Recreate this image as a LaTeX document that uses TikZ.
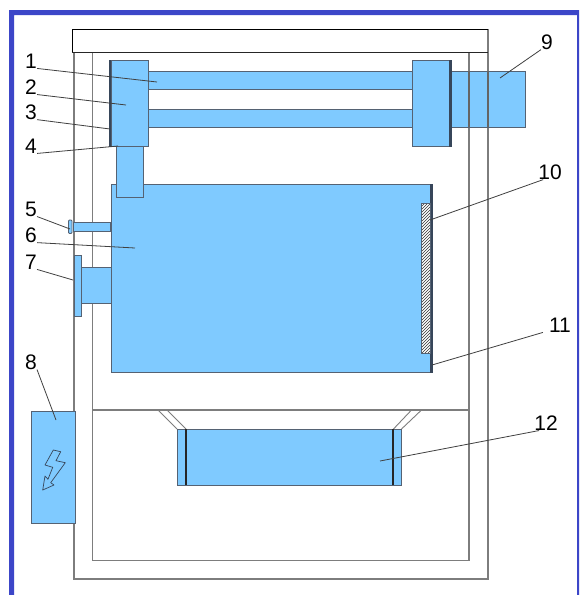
\documentclass[tikz,border=0pt]{standalone}
\usepackage{fontspec}
\setmainfont{Liberation Sans}
\definecolor{myblue}{RGB}{127,202,255}
\definecolor{myframe}{RGB}{60,70,200}
\definecolor{myline}{RGB}{125,125,125}
\definecolor{mydark}{RGB}{55,70,90}
\usetikzlibrary{patterns}
\tikzset{
	part/.style={draw=mydark!85!white, fill=myblue, line width=0.9pt},
	strip/.style={draw=mydark, fill=mydark, line width=0.4pt},
	wall/.style={draw=myline, line width=1.3pt},
	leader/.style={draw=black!75, line width=0.8pt},
	num/.style={inner sep=0pt, font=\fontsize{21}{21}\selectfont}
}
\begin{document}
\begin{tikzpicture}[x=1pt, y=-1pt]
				\useasboundingbox (0,0) rectangle (579,595);
				%Rand zeichnen
				\fill[white] (0,0) rectangle (579,595);
				\fill[myframe] (9,595) -- (9,10) -- (579,10) -- (579,595) -- (577,595) -- (577,15) -- (14,15) -- (14,595) -- cycle;
				% Gehaeuse zeichnen
				\draw[wall] (74,52) -- (74,579) -- (488,579) -- (488,29);
				\draw[wall] (92.5,52) -- (92.5,560.5) -- (469,560.5) -- (469,52);
				\draw[wall] (92.5,410) -- (469,410);
				\draw[draw=black, line width=0.9pt] (72,52.5) -- (72,29) -- (488,29);
				\draw[draw=black!85, line width=1.6pt] (72,52.5) -- (488,52.5);
				% Trichter
				\draw[wall, line width=0.9pt] (158,410) -- (177,429) (167,410) -- (186,429);
				\draw[wall, line width=0.9pt] (411.5,410) -- (393.5,429) (421.5,410) -- (401.5,429);
				% Fuehrung und Antrieb
				\draw[part] (451,71) rectangle (525,127);
				\draw[part] (148.5,71) rectangle (412.5,89);
				\draw[part] (148.5,109) rectangle (412.5,127);
				\draw[strip] (109,60) rectangle (111,146);
				\draw[part] (111,60) rectangle (148.5,146);
				\draw[part] (412.5,60) rectangle (449.5,146);
				\draw[strip] (449.5,60) rectangle (451,146);
				% Rahmen ueber dem Antrieb
				\draw[myline!80!black, line width=1.1pt] (469,71) -- (469,127) (488,71) -- (488,127);
				% Kammer
				\draw[part] (111,184) rectangle (430,372);
				\draw[strip] (430,184) rectangle (432.5,372);
				\draw[part] (116,146) rectangle (143.5,197.5);
				\fill[white] (421,203) rectangle (430,353);
				\draw[draw=mydark!85!white, pattern=north east lines, pattern color=black!80, line width=0.6pt] (421,203) rectangle (430,353);
				% Teile links
				\draw[part] (73,222.7) rectangle (110.7,231.7);
				\draw[part, rounded corners=1pt] (68.5,220) rectangle (72,233.5);
				\draw[part] (74,255) rectangle (81,316.7);
				\draw[part] (81,267.3) rectangle (111,303.7);
				% Stromkasten
				\draw[part] (31,411) rectangle (75,523.7);
				\draw[draw=mydark, line width=0.7pt, line join=round] (53.3,450) -- (60.7,451.7) -- (56,460.7) -- (65.3,462.7) -- (50.7,482.7) -- (54,485) -- (42.7,490) -- (45,476) -- (48,479.3) -- (52.7,467.3) -- (45,465) -- cycle;
				% Wanne
				\draw[part] (177,429) rectangle (186,485.5);
				\draw[part] (393,429) rectangle (401.5,485.5);
				\draw[part] (186,429) rectangle (393,485);
				\draw[draw=black!85, line width=1.2pt] (186,429) -- (186,485) (393,429) -- (393,485);
				% Beschriftung
				\foreach \n/\x/\y/\tx/\ty in {1/31/61/157/82, 2/31/87/126/105, 3/31/112/110/129, 4/31/146/118/146, 5/31/209/70/229, 6/31/235/135/248, 7/31/262/73/280, 8/31/362/56/420, 9/547/42/500/78, 10/550/172/430/220, 11/560/325/432/365, 12/546/423/380/461}{
					\node[num] (num\n) at (\x,\y) {\n};
					\coordinate (end\n) at (\tx,\ty);
				}
				\foreach \n in {1,...,8} \draw[leader] (num\n.south east) -- (end\n);
				\foreach \n/\d in {9/0,10/5,11/-6,12/5} \draw[leader] ([xshift=\d pt]num\n.south west) -- (end\n);
		\end{tikzpicture}
\end{document}
